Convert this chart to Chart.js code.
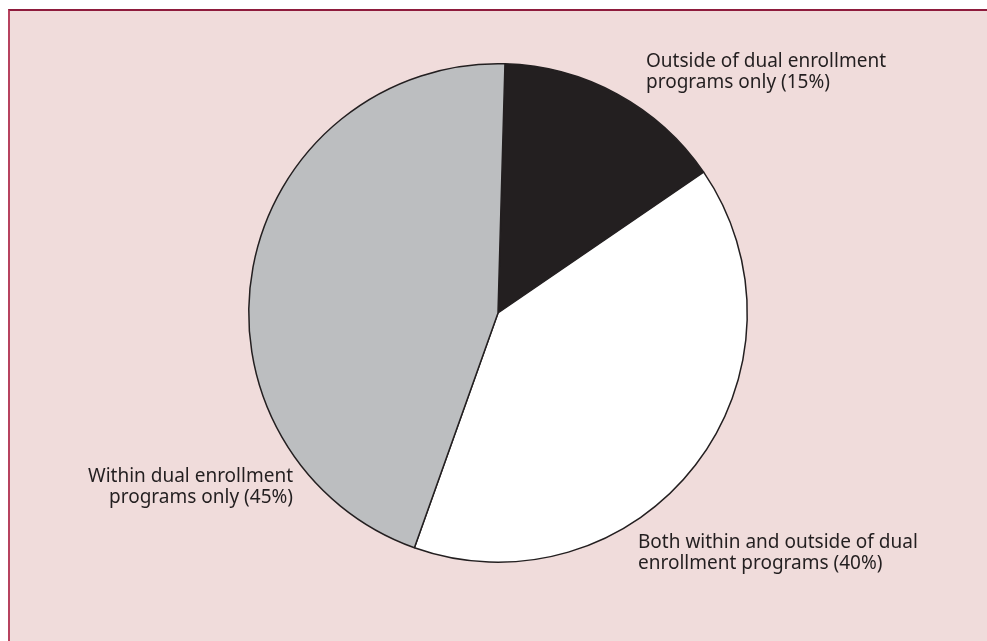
<!DOCTYPE html>
<html>
<head>
<meta charset="utf-8">
<script src="https://cdn.jsdelivr.net/npm/chart.js@4"></script>
<style>
  html, body { margin: 0; padding: 0; background: #ffffff; }
  #wrap { position: relative; width: 987px; height: 641px; overflow: hidden; }
  #frame {
    position: absolute; left: 8px; top: 9px; right: -10px; bottom: -10px;
    background: #f0dcdb;
    border-left: 2px solid #b7435f;
    border-top: 2px solid #8e1b3c;
  }
  #chart { position: absolute; left: 0; top: 0; }
</style>
</head>
<body>
<div id="wrap">
  <div id="frame"></div>
  <canvas id="chart" width="987" height="641"></canvas>
</div>
<script>
// slice order clockwise from the top
const categories = [
    ['Outside of dual enrollment', 'programs only (15%)'],
    ['Both within and outside of dual', 'enrollment programs (40%)'],
    ['Within dual enrollment', 'programs only (45%)']
];
const shares = [15, 40, 45];
const sliceColors = ['#231f20', '#ffffff', '#bcbec0'];

// where each label block sits: x, y of first line, alignment
const labelSpots = [
    { x: 646, y: 62, align: 'left' },
    { x: 638, y: 543, align: 'left' },
    { x: 293, y: 477, align: 'right' }
];

const labelPlugin = {
    id: 'sliceLabels',
    afterDraw(chart) {
        const ctx = chart.ctx;
        ctx.save();
        ctx.fillStyle = '#231f20';
        ctx.font = '19px "Noto Sans", sans-serif';
        ctx.textBaseline = 'middle';
        categories.forEach((lines, i) => {
            const spot = labelSpots[i];
            ctx.textAlign = spot.align;
            lines.forEach((line, j) => {
                ctx.fillText(line, spot.x, spot.y + j * 21);
            });
        });
        ctx.restore();
    }
};

new Chart(document.getElementById('chart'), {
    type: 'pie',
    data: {
        labels: categories.map(l => l.join(' ')),
        datasets: [{
            data: shares,
            backgroundColor: sliceColors,
            borderColor: '#231f20',
            borderWidth: 1.5
        }]
    },
    options: {
        responsive: false,
        animation: false,
        rotation: 1.6,
        layout: { padding: { left: 248, right: 239, top: 63, bottom: 78 } },
        plugins: {
            legend: { display: false },
            tooltip: { enabled: false }
        }
    },
    plugins: [labelPlugin]
});
</script>
</body>
</html>
